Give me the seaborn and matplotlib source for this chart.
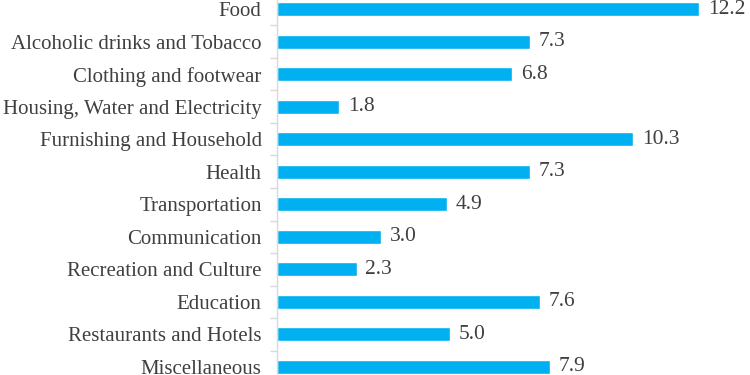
import matplotlib.pyplot as plt
import seaborn as sns
import pandas as pd
import numpy as np

categories = ["Food", "Alcoholic drinks and Tobacco", "Clothing and footwear",
              "Housing, Water and Electricity", "Furnishing and Household", "Health",
              "Transportation", "Communication", "Recreation and Culture",
              "Education", "Restaurants and Hotels", "Miscellaneous"]
values = [12.2, 7.3, 6.8, 1.8, 10.3, 7.3, 4.9, 3.0, 2.3, 7.6, 5.0, 7.9]

df = pd.DataFrame({"category": categories, "value": values})

sns.set_style("white")
plt.rcParams["font.family"] = ["Liberation Serif", "DejaVu Serif"]

fig = plt.figure(figsize=(7.5, 3.75), dpi=100)
ax = fig.add_axes([277 / 750, -8.25 / 375, 473 / 750, 390.5 / 375])

sns.barplot(data=df, x="value", y="category", color="#00B0F0", saturation=1,
            width=0.43, ax=ax)

ax.set_xlim(0, 473 / 34.6)
ax.set_ylim(len(categories) - 0.5, -0.5)
ax.set_xlabel("")
ax.set_ylabel("")
ax.set_xticks([])

for s in ["top", "right", "bottom"]:
    ax.spines[s].set_visible(False)
ax.spines["left"].set_color("#D9D9D9")
ax.spines["left"].set_linewidth(1)

ax.set_yticks(np.arange(len(categories)) - 0.5, minor=True)
ax.tick_params(axis="y", which="minor", length=5, color="#D9D9D9", width=1, left=True)
ax.tick_params(axis="y", which="major", length=0, pad=11, labelsize=15,
               labelcolor="#404040")

for i, v in enumerate(values):
    ax.text(v + 0.25, i, f"{v:.1f}", va="center", ha="left", fontsize=15.5,
            color="#404040")

fig.savefig("out.png", dpi=100)
